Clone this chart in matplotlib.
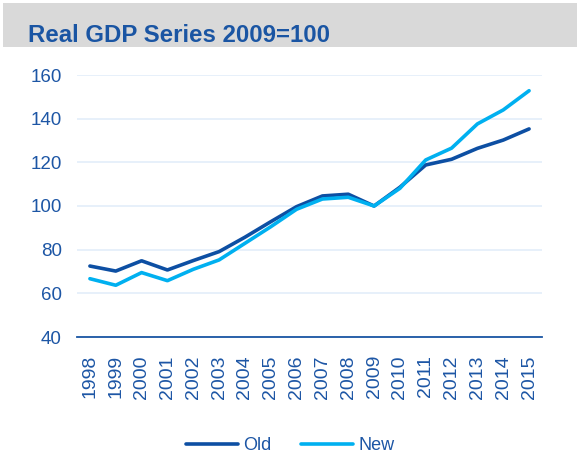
import numpy as np
import matplotlib.pyplot as plt
from matplotlib.patches import Rectangle

# data
years = list(range(1998, 2016))
old = [72.5, 70.2, 74.9, 70.7, 75.0, 79.1, 85.7, 92.8, 99.7, 104.6, 105.4, 100.0,
       108.6, 118.8, 121.4, 126.4, 130.2, 135.3]
new = [66.7, 63.7, 69.5, 65.8, 71.0, 75.3, 82.9, 90.5, 98.5, 103.2, 104.0, 100.0,
       108.1, 121.1, 126.5, 137.6, 144.0, 152.8]

blue_txt = '#1d56a5'

fig = plt.figure(figsize=(5.77, 4.54), dpi=100)

# grey title band
fig.patches.append(Rectangle((3/577, 1 - 47/454), 574/577, 44/454,
                             transform=fig.transFigure, facecolor='#d9d9d9',
                             edgecolor='none', zorder=0))
fig.text(28/577, 1 - 42/454, 'Real GDP Series 2009=100', fontsize=17.3,
         fontweight='bold', color='#1a55a3', ha='left', va='baseline',
         family='Liberation Sans')

ax = fig.add_axes([77/577, 1 - 337/454, 465/577, 262/454])
ax.plot(years, old, color='#0d4fa3', lw=2.6, label='Old', solid_capstyle='round')
ax.plot(years, new, color='#00b0f0', lw=2.6, label='New', solid_capstyle='round')

ax.set_xlim(1997.5, 2015.5)
ax.set_ylim(40, 160)
ax.set_yticks(range(40, 161, 20))
ax.set_xticks(years)
ax.set_xticklabels([str(y) for y in years], rotation=90, family='Liberation Sans',
                   fontsize=14, color=blue_txt)
for lab in ax.get_yticklabels():
    lab.set_family('Liberation Sans')
    lab.set_fontsize(13.5)
    lab.set_color(blue_txt)
ax.tick_params(axis='y', length=0, pad=11)
ax.tick_params(axis='x', length=0, pad=13)
ax.grid(axis='y', color='#e3eef9', lw=1.2)
for s in ['top', 'right', 'left']:
    ax.spines[s].set_visible(False)
ax.spines['bottom'].set_color('#1a55a3')
ax.spines['bottom'].set_linewidth(1.3)
ax.set_axisbelow(True)

leg = fig.legend(loc='center', bbox_to_anchor=(290/577, 1 - 446/454), ncol=2,
                 frameon=False, handlelength=2.9, columnspacing=1.6,
                 handletextpad=0.3, borderpad=0.2,
                 prop={'family': 'Liberation Sans', 'size': 13})
for t in leg.get_texts():
    t.set_color(blue_txt)

fig.savefig('out.png', dpi=100)
